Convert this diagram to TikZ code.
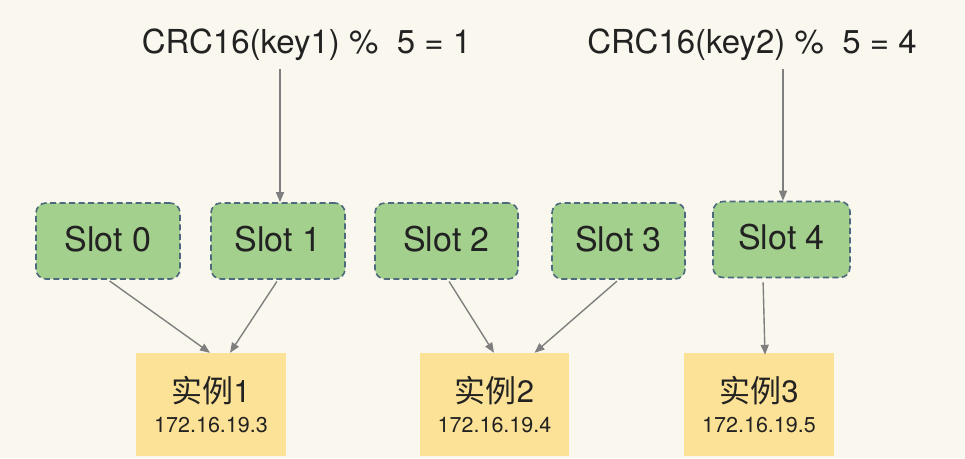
\documentclass[tikz,border=0pt]{standalone}
\usepackage{fontspec}
\setmainfont{TeX Gyre Heros}
\newfontfamily\cjk{Noto Sans CJK SC}
\usetikzlibrary{arrows.meta}
\definecolor{bg}{HTML}{FAF8EE}
\definecolor{slotfill}{HTML}{A4D08E}
\definecolor{slotborder}{HTML}{4D6A7D}
\definecolor{instfill}{HTML}{FCE296}
\definecolor{arrgray}{HTML}{7F7F7F}
\definecolor{txt}{HTML}{222222}
\begin{document}
\begin{tikzpicture}[x=1pt,y=-1pt,
  slotbox/.style={draw=slotborder, line width=1.6pt, dash pattern=on 6pt off 3.5pt,
    fill=slotfill, rounded corners=10pt, minimum width=#1, minimum height=76pt,
    inner sep=0pt, text height=25pt, text depth=5pt,
    font=\fontsize{34}{40}\selectfont, text=txt},
  instbox/.style={fill=instfill, minimum width=#1, minimum height=103pt,
    inner sep=0pt, align=center, text=txt, font=\fontsize{31}{30}\selectfont},
  keytext/.style={font=\fontsize{33}{38}\selectfont, text=txt, inner sep=2pt},
  arr/.style={draw=arrgray, line width=1.4pt, -{Triangle[length=10pt,width=8pt]}}
]
\fill[bg] (0,0) rectangle (965,458);
\useasboundingbox (0,0) rectangle (965,458);

\node[keytext] (k1) at (306.5,45) {CRC16(key1) \%\ \ 5 = 1};
\node[keytext] (k2) at (752,45) {CRC16(key2) \%\ \ 5 = 4};

\node[slotbox=144pt] (s0) at (108,241) {Slot 0};
\node[slotbox=134pt] (s1) at (278,241) {Slot 1};
\node[slotbox=143pt] (s2) at (446.5,241) {Slot 2};
\node[slotbox=133pt] (s3) at (618.5,241) {Slot 3};
\node[slotbox=137pt] (s4) at (781.5,239.5) {Slot 4};

\node[instbox=150pt] (i1) at (211,404.5) {{\cjk 实例}1\\{\fontsize{21.5}{24}\selectfont 172.16.19.3}};
\node[instbox=149pt] (i2) at (494.5,404.5) {{\cjk 实例}2\\{\fontsize{21.5}{24}\selectfont 172.16.19.4}};
\node[instbox=150pt] (i3) at (759,404.5) {{\cjk 实例}3\\{\fontsize{21.5}{24}\selectfont 172.16.19.5}};

\draw[arr] ([xshift=-26.5pt,yshift=-6pt]k1.south) -- ([xshift=2pt]s1.north);
\draw[arr] ([xshift=31pt,yshift=-6pt]k2.south) -- ([xshift=1.5pt]s4.north);

\draw[arr, shorten <=2pt] (s0.south) -- ([xshift=-1pt]i1.north);
\draw[arr, shorten <=2pt] (s1.south) -- ([xshift=19pt]i1.north);
\draw[arr, shorten <=2pt] ([xshift=1.5pt]s2.south) -- ([xshift=-0.5pt]i2.north);
\draw[arr, shorten <=2pt] (s3.south) -- ([xshift=40pt]i2.north);
\draw[arr, shorten <=4pt] ([xshift=-18.5pt]s4.south) -- ([xshift=6pt,yshift=-2pt]i3.north);
\end{tikzpicture}
\end{document}
